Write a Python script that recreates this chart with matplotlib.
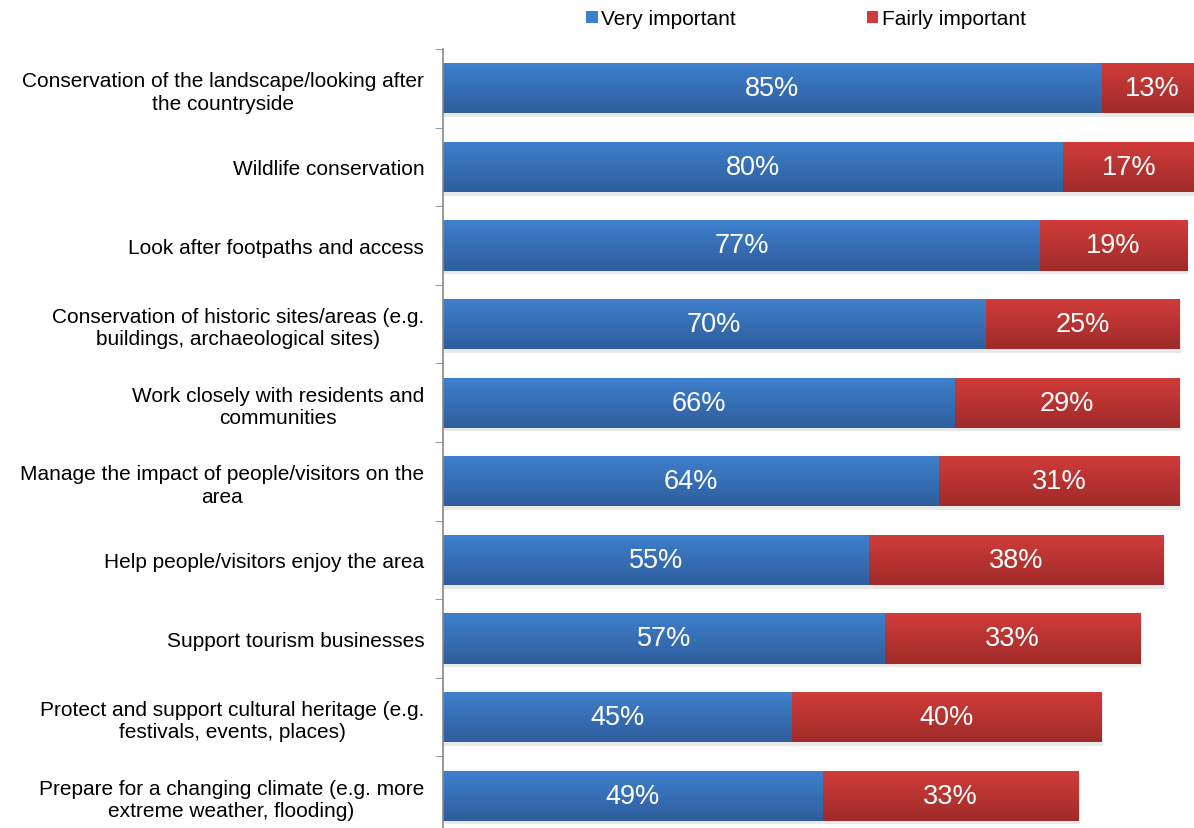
import numpy as np
import matplotlib.pyplot as plt
from matplotlib.patches import Patch
import matplotlib.patheffects as pe

plt.rcParams['font.family'] = ['Liberation Sans', 'DejaVu Sans']

# --- Data ---
categories = [
    "Conservation of the landscape/looking after\nthe countryside",
    "Wildlife conservation",
    "Look after footpaths and access",
    "Conservation of historic sites/areas (e.g.\nbuildings, archaeological sites)",
    "Work closely with residents and\ncommunities",
    "Manage the impact of people/visitors on the\narea",
    "Help people/visitors enjoy the area",
    "Support tourism businesses",
    "Protect and support cultural heritage (e.g.\nfestivals, events, places)",
    "Prepare for a changing climate (e.g. more\nextreme weather, flooding)",
]
very_important = [85, 80, 77, 70, 66, 64, 55, 57, 45, 49]
fairly_important = [13, 17, 19, 25, 29, 31, 38, 33, 40, 33]
series_names = ["Very important", "Fairly important"]

# top / bottom colours of the vertical gradient fill
blue_top, blue_bot = "#3F80CE", "#2E5E9C"
red_top, red_bot = "#D03C39", "#A02B2A"


def gradient_fill(ax, bars, top, bot):
    """Paint each bar with a vertical two-colour gradient, clipped to the bar."""
    c_top = np.array(plt.matplotlib.colors.to_rgb(top))
    c_bot = np.array(plt.matplotlib.colors.to_rgb(bot))
    t = np.linspace(0, 1, 64)[:, None]
    grad = (c_top * (1 - t) + c_bot * t)[:, None, :]
    for b in bars:
        x0, y0 = b.get_x(), b.get_y()
        w, h = b.get_width(), b.get_height()
        # y axis is inverted, so y0 is the visual top
        im = ax.imshow(grad, extent=(x0, x0 + w, y0 + h, y0), aspect='auto',
                       interpolation='bilinear', zorder=b.get_zorder() + 0.1)
        im.set_clip_path(b)


fig = plt.figure(figsize=(11.94, 8.29), dpi=100)
ax = fig.add_axes([443 / 1194, -7 / 829, 775 / 1194, 786 / 829])

y = np.arange(len(categories))
shadow = [pe.SimplePatchShadow(offset=(1, -2.5), shadow_rgbFace='#aaaaaa', alpha=0.25), pe.Normal()]

b1 = ax.barh(y, very_important, height=0.64, color=blue_top, zorder=2,
             path_effects=shadow)
b2 = ax.barh(y, fairly_important, left=very_important, height=0.64, color=red_top,
             zorder=2, path_effects=shadow)
gradient_fill(ax, b1, blue_top, blue_bot)
gradient_fill(ax, b2, red_top, red_bot)

for i in range(len(categories)):
    v, f = very_important[i], fairly_important[i]
    ax.text(v / 2, i, f"{v}%", ha='center', va='center', color='white',
            fontsize=19.5, zorder=5)
    ax.text(v + f / 2, i, f"{f}%", ha='center', va='center', color='white',
            fontsize=19.5, zorder=5)

ax.set_xlim(0, 100)
ax.set_ylim(len(categories) - 0.5, -0.5)

ax.set_yticks(y)
ax.set_yticklabels(categories, fontsize=15, linespacing=1.22)
ax.tick_params(axis='y', which='major', length=0, pad=13.5)
for lbl in ax.get_yticklabels():
    lbl.set_multialignment('center')
ax.set_yticks(np.arange(len(categories) + 1) - 0.5, minor=True)
ax.tick_params(axis='y', which='minor', length=6, color='#888888', direction='out')
ax.set_xticks([])

for side in ['top', 'right', 'bottom']:
    ax.spines[side].set_visible(False)
ax.spines['left'].set_color('#888888')
ax.spines['left'].set_linewidth(1.2)

handles = [Patch(facecolor=blue_top, edgecolor='none'),
           Patch(facecolor=red_top, edgecolor='none')]
fig.legend(handles, series_names, loc='center', bbox_to_anchor=(0.675, 0.976),
           ncol=2, frameon=False, fontsize=15, handlelength=0.55, handleheight=0.55,
           handletextpad=0.15, columnspacing=6.3)

fig.savefig("out.png", dpi=100)
